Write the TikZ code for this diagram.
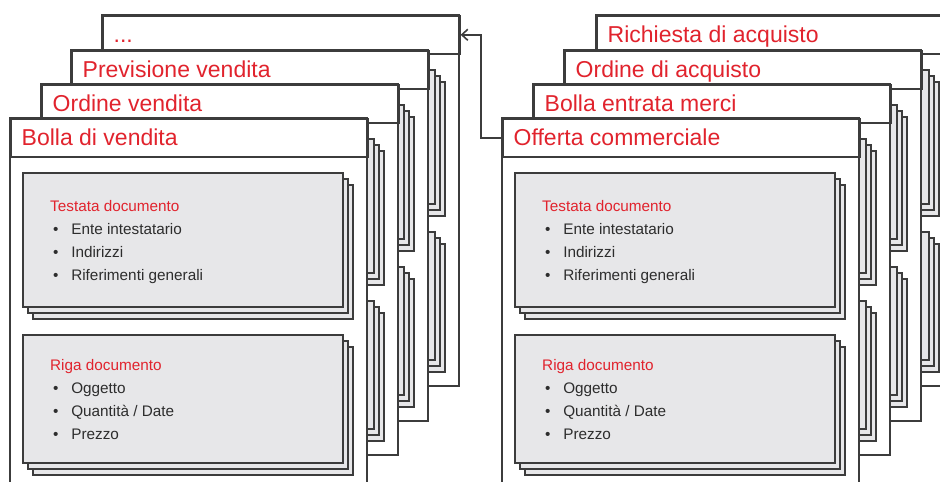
\documentclass[tikz,border=0pt]{standalone}
\usepackage{fontspec}
\setmainfont{Liberation Sans}
\usepackage{tikz}
\definecolor{docred}{RGB}{225, 35, 45}
\definecolor{panelgray}{RGB}{231, 231, 233}
\definecolor{edgegray}{RGB}{60, 60, 60}
\definecolor{textgray}{RGB}{45, 45, 45}
\usetikzlibrary{arrows.meta, calc}

% one document sheet: #1 name, #2 x, #3 y, #4 title
\newcommand{\docsheet}[4]{%
  \begin{scope}[shift={(#2,#3)}]
    % sheet and header
    \filldraw[sheet] (0,0) rectangle (357,371);
    \node[head] (#1) at (0,0) {};
    \node[title] (#1-title) at (11.5,27) {#4};
    % stacked panels
    \foreach \d in {10,5,0} {
      \filldraw[panel] (13+\d,55+1.2*\d) rectangle ++(320,134);
      \filldraw[panel] (13+\d,217+1.2*\d) rectangle ++(320,128);
    }
  \end{scope}}

% panel texts of a front sheet: #1 name, #2 x, #3 y
\newcommand{\doctext}[3]{%
  \begin{scope}[shift={(#2,#3)}]
    \node[panelhead] (#1-testata) at (40,93) {Testata documento};
    \foreach \t [count=\i] in {Ente intestatario, Indirizzi, Riferimenti generali}
      \node[item] (#1-testata-\i) at (43,93+23*\i) {\textbullet\hspace{12.75pt}\t};
    \node[panelhead] (#1-riga) at (40,252) {Riga documento};
    \foreach \t [count=\i] in {Oggetto, {Quantità / Date}, Prezzo}
      \node[item] (#1-riga-\i) at (43,252+23*\i) {\textbullet\hspace{12.75pt}\t};
  \end{scope}}

\begin{document}
\begin{tikzpicture}[
    x=1pt, y=-1pt,
    sheet/.style={draw=edgegray, fill=white, line width=1.6pt},
    head/.style={draw=edgegray, line width=1.6pt, anchor=north west, minimum width=357pt, minimum height=38pt, inner sep=0pt},
    title/.style={anchor=base west, inner sep=0pt, text=docred, font=\fontsize{23}{27}\selectfont},
    panel/.style={draw=edgegray, fill=panelgray, line width=1.4pt},
    panelhead/.style={anchor=base west, inner sep=0pt, text=docred, font=\fontsize{15.3}{18}\selectfont},
    item/.style={anchor=base west, inner sep=0pt, text=textgray, font=\fontsize{15.3}{18}\selectfont},
    link/.style={draw=edgegray, line width=1.6pt, -{Straight Barb[length=6pt, width=11pt]}}
]
    \useasboundingbox (0,0) rectangle (940,482);
    \clip (0,0) rectangle (940,482);

    % Sales documents
    \docsheet{altri}{102}{15}{...}
    \docsheet{previsione}{71}{50}{Previsione vendita}
    \docsheet{ordine}{41}{84}{Ordine vendita}
    \docsheet{bolla}{10}{118}{Bolla di vendita}
    \doctext{bolla}{10}{118}

    % Purchase documents
    \docsheet{richiesta}{596}{15}{Richiesta di acquisto}
    \docsheet{ordacq}{564}{50}{Ordine di acquisto}
    \docsheet{entrata}{533}{84}{Bolla entrata merci}
    \docsheet{offerta}{502}{118}{Offerta commerciale}
    \doctext{offerta}{502}{118}

    % Link between stacks
    \draw[link] (offerta.west) -- ++(-21,0) |- (altri.east);
\end{tikzpicture}
\end{document}
